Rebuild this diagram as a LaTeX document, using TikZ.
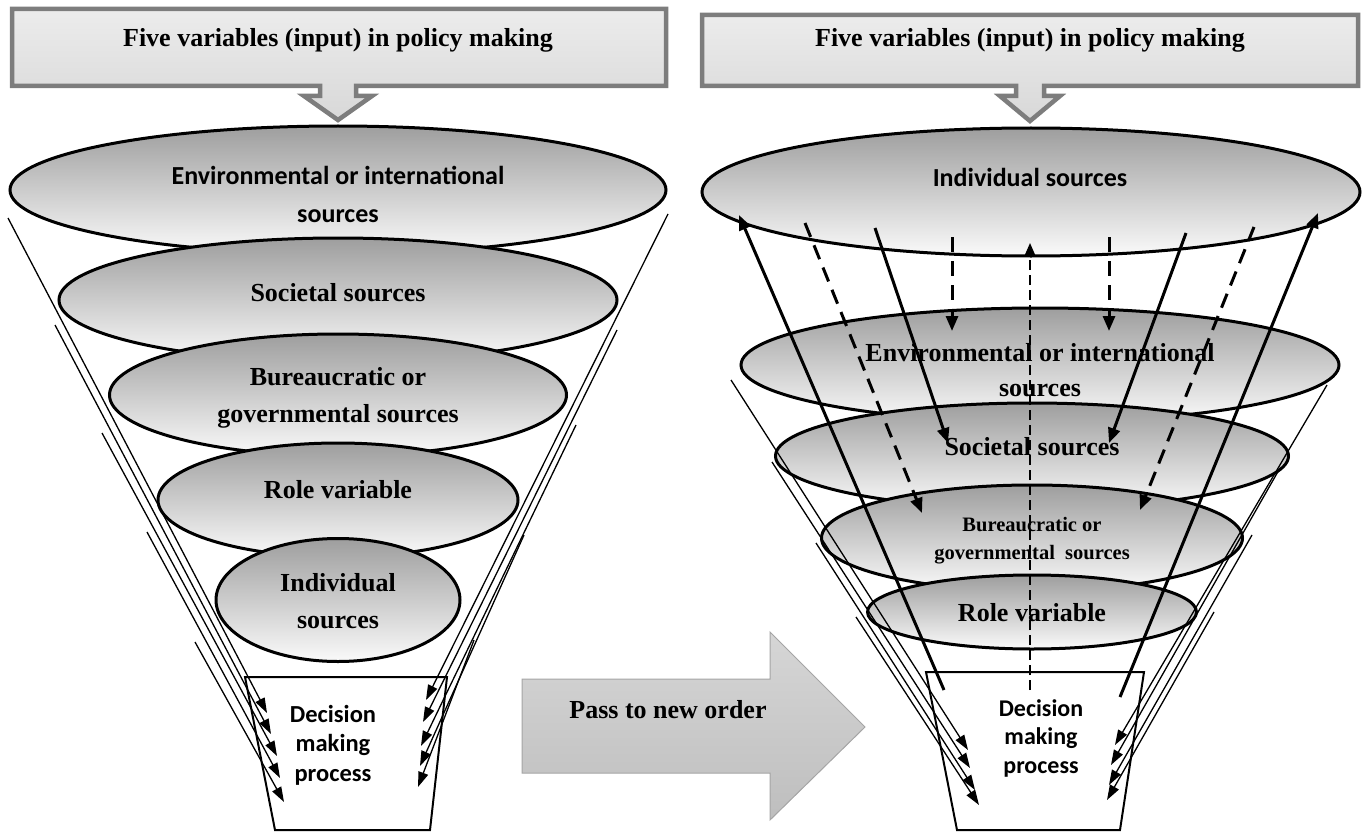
\documentclass[tikz,border=0pt]{standalone}
\usepackage{fontspec}
\setmainfont{Liberation Serif}
\newfontfamily\calib{Carlito}
\usetikzlibrary{arrows.meta,shapes.geometric}
\definecolor{shtop}{RGB}{158,158,158}
\definecolor{shmid}{RGB}{212,212,212}
\definecolor{shbot}{RGB}{250,250,250}
\definecolor{callouttop}{RGB}{236,236,236}
\definecolor{calloutbot}{RGB}{216,216,216}
\definecolor{calloutline}{RGB}{125,125,125}
\definecolor{passtop}{RGB}{214,214,214}
\definecolor{passbot}{RGB}{190,190,190}
\definecolor{passline}{RGB}{165,165,165}
\begin{document}
\begin{tikzpicture}[x=1pt,y=-1pt,
 callout/.style={draw=calloutline, line width=4.5pt, top color=callouttop, bottom color=calloutbot, line join=miter},
 layer/.style={ellipse, draw=black, line width=3pt, top color=shtop, middle color=shmid, bottom color=shbot, inner sep=0pt},
 serif/.style={font=\bfseries\fontsize{26}{37}\selectfont, align=center, inner sep=0pt},
 serifsmall/.style={font=\bfseries\fontsize{20.5}{28}\selectfont, align=center, inner sep=0pt},
 sans/.style={font=\calib\bfseries\fontsize{26}{38}\selectfont, align=center, inner sep=0pt},
 sansdec/.style={font=\calib\bfseries\fontsize{24.5}{29.5}\selectfont, align=center, inner sep=0pt},
 dbox/.style={draw=black, line width=2pt, fill=white},
 feed/.style={line width=1.3pt, -{Triangle[length=15pt,width=10pt]}},
 solidarr/.style={line width=3pt, -{Triangle[length=15pt,width=12pt]}},
 dasharr/.style={line width=3pt, dash pattern=on 15pt off 9pt, -{Triangle[length=15pt,width=12pt]}},
 thindash/.style={line width=1.5pt, dash pattern=on 10pt off 5pt, -{Triangle[length=12pt,width=10pt]}},
 passarrow/.style={draw=passline, line width=1pt, top color=passtop, bottom color=passbot}
]
\useasboundingbox (0,0) rectangle (1368,832);

% ---------- left title callout ----------
\path[callout] (12,9) -- (666,9) -- (666,86) -- (356,86) -- (356,96) -- (372,96) -- (338,120)
  -- (304,96) -- (320,96) -- (320,86) -- (12,86) -- cycle;
\node[serif] (T1) at (338,40) {Five variables (input) in policy making};

% ---------- right title callout ----------
\path[callout] (702,15) -- (1358,15) -- (1358,86) -- (1044,86) -- (1044,96) -- (1060,96) -- (1030,121)
  -- (1000,96) -- (1016,96) -- (1016,86) -- (702,86) -- cycle;
\node[serif] (T2) at (1030,40) {Five variables (input) in policy making};

% ---------- left funnel ----------
\node[layer, minimum width=656pt, minimum height=128pt] (L1) at (338,190) {};
\node[sans] (L1t) at (338,194) {Environmental or international\\sources};
\node[layer, minimum width=558pt, minimum height=124pt] (L2) at (338,300) {};
\node[serif] (L2t) at (338,293) {Societal sources};
\node[layer, minimum width=457pt, minimum height=122pt] (L3) at (338,395) {};
\node[serif] (L3t) at (338,398) {Bureaucratic or\\governmental sources};
\node[layer, minimum width=360pt, minimum height=114pt] (L4) at (338,500) {};
\node[serif] (L4t) at (338,490) {Role variable};
\node[layer, minimum width=244pt, minimum height=123pt] (L5) at (338,600) {};
\node[serif] (L5t) at (338,601) {Individual\\sources};

\draw[dbox] (245,677) coordinate (LDa) -- (447,677) coordinate (LDb) -- (430,830) coordinate (LDc) -- (275,830) coordinate (LDd) -- cycle;
\node[sansdec] (LD) at (333,745) {Decision\\making\\process};

% left-side feeds
\coordinate (la1) at (8,218);   \coordinate (lb1) at (267,713);
\coordinate (la2) at (55,325);  \coordinate (lb2) at (271,734);
\coordinate (la3) at (102,433); \coordinate (lb3) at (277,756);
\coordinate (la4) at (147,532); \coordinate (lb4) at (280,778);
\coordinate (la5) at (195,642); \coordinate (lb5) at (284,802);
\foreach \i in {1,...,5} \draw[feed] (la\i) -- (lb\i);
% right-side feeds
\coordinate (ra1) at (668,214); \coordinate (rb1) at (426,700);
\coordinate (ra2) at (617,330); \coordinate (rb2) at (423,722);
\coordinate (ra3) at (576,425); \coordinate (rb3) at (421,746);
\coordinate (ra4) at (524,535); \coordinate (rb4) at (420,766);
\coordinate (ra5) at (474,640); \coordinate (rb5) at (418,787);
\foreach \i in {1,...,5} \draw[feed] (ra\i) -- (rb\i);

% ---------- pass arrow ----------
\path[passarrow] (522,679) coordinate (Pa) -- (770,679) -- (770,632) -- (865,727) coordinate (Ptip)
  -- (770,820) -- (770,773) -- (522,773) -- cycle;
\node[serif] (P) at (668,710) {Pass to new order};

% ---------- right funnel ----------
\node[layer, minimum width=658pt, minimum height=128pt] (R1) at (1031,192) {};
\node[sans] (R1t) at (1030,177) {Individual sources};
\node[layer, minimum width=598pt, minimum height=114pt] (R2) at (1040,365) {};
\node[serif, font=\bfseries\fontsize{26}{35}\selectfont] (R2t) at (1040,370) {Environmental or international\\sources};
\node[layer, minimum width=513pt, minimum height=106pt] (R3) at (1032,456) {};
\node[serif] (R3t) at (1032,447) {Societal sources};
\node[layer, minimum width=421pt, minimum height=106pt] (R4) at (1032,538) {};
\node[serifsmall] (R4t) at (1032,541) {Bureaucratic or\\governmental~ sources};
\node[layer, minimum width=329pt, minimum height=74pt] (R5) at (1032,612) {};
\node[serif] (R5t) at (1032,613) {Role variable};

\draw[dbox] (926,672) coordinate (RDa) -- (1144,672) coordinate (RDb) -- (1120,830) coordinate (RDc) -- (957,830) coordinate (RDd) -- cycle;
\node[sansdec, font=\calib\bfseries\fontsize{24}{28.5}\selectfont] (RD) at (1041,738) {Decision\\making\\process};

% thin feeds, right funnel
\coordinate (sa1) at (731,380);  \coordinate (sb1) at (968,750);
\coordinate (sa2) at (772,462);  \coordinate (sb2) at (970,768);
\coordinate (sa3) at (816,543);  \coordinate (sb3) at (975,790);
\coordinate (sa4) at (856,617);  \coordinate (sb4) at (979,805);
\foreach \i in {1,...,4} \draw[feed] (sa\i) -- (sb\i);
\coordinate (ta1) at (1327,385); \coordinate (tb1) at (1115,745);
\coordinate (ta2) at (1280,468); \coordinate (tb2) at (1111,765);
\coordinate (ta3) at (1252,535); \coordinate (tb3) at (1109,785);
\coordinate (ta4) at (1214,612); \coordinate (tb4) at (1107,800);
\foreach \i in {1,...,4} \draw[feed] (ta\i) -- (tb\i);

% thick arrows, right funnel
\coordinate (u1s) at (944,690);  \coordinate (u1e) at (739,215);
\coordinate (u2s) at (1120,697); \coordinate (u2e) at (1318,213);
\draw[solidarr] (u1s) -- (u1e);
\draw[solidarr] (u2s) -- (u2e);
\coordinate (d1s) at (805,223);  \coordinate (d1e) at (922,513);
\coordinate (d2s) at (1254,227); \coordinate (d2e) at (1140,510);
\draw[dasharr] (d1s) -- (d1e);
\draw[dasharr] (d2s) -- (d2e);
\coordinate (s1s) at (875,228);  \coordinate (s1e) at (948,443);
\coordinate (s2s) at (1186,233); \coordinate (s2e) at (1109,443);
\draw[solidarr] (s1s) -- (s1e);
\draw[solidarr] (s2s) -- (s2e);
\coordinate (v1s) at (952,237);  \coordinate (v1e) at (952,331);
\coordinate (v2s) at (1109,237); \coordinate (v2e) at (1109,331);
\draw[dasharr] (v1s) -- (v1e);
\draw[dasharr] (v2s) -- (v2e);
\coordinate (cs) at (1030,690);  \coordinate (ce) at (1030,243);
\draw[thindash] (cs) -- (ce);
\end{tikzpicture}
\end{document}
